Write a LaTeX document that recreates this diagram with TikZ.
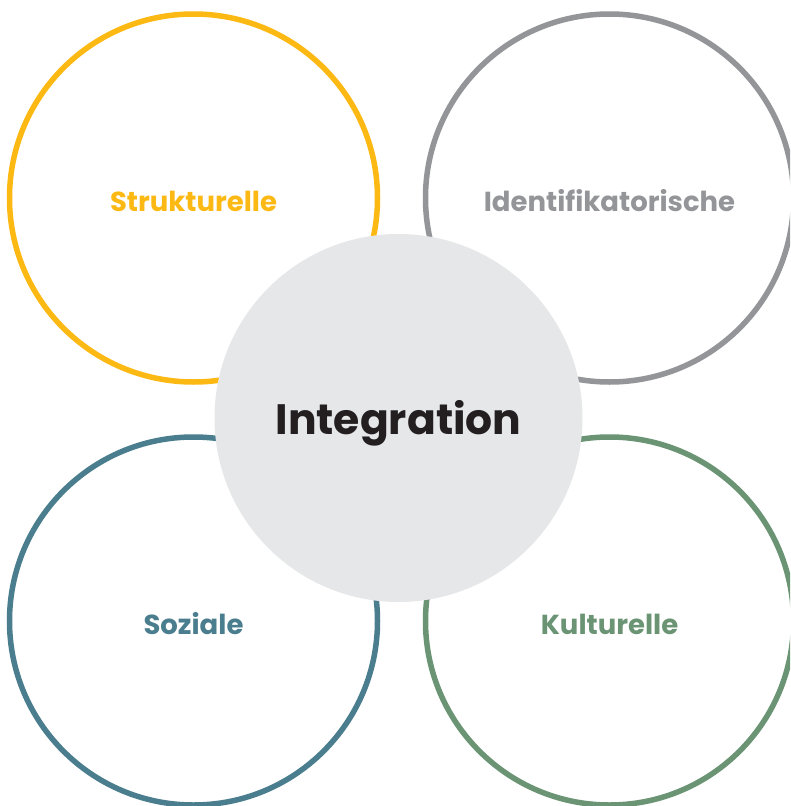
\documentclass[tikz,border=0pt]{standalone}
\usepackage{fontspec}
\setmainfont{Poppins}
\definecolor{cyellow}{HTML}{FDB913}
\definecolor{cgray}{HTML}{939598}
\definecolor{cteal}{HTML}{4A7E8E}
\definecolor{cgreen}{HTML}{6A9473}
\definecolor{cfill}{HTML}{E6E7E8}
\definecolor{ctext}{HTML}{231F20}
\begin{document}
\begin{tikzpicture}[x=1pt,y=-1pt,
  ring/.style={circle,draw=#1,line width=5.5pt,minimum size=368pt,inner sep=0pt,fill=white},
  lbl/.style={font=\fontsize{27.5}{30}\selectfont\bfseries,text=#1},
  hub/.style={circle,fill=cfill,minimum size=368pt,inner sep=0pt},
  hubtext/.style={font=\fontsize{42.5}{46}\selectfont\bfseries,text=ctext}]
\useasboundingbox (0,0) rectangle (790,806);
\clip (0,0) rectangle (790,806);
\fill[white] (0,0) rectangle (790,806);
\node[ring=cyellow] (ys) at (193.5,198) {};
\node[ring=cgray] (gs) at (609.5,198) {};
\node[ring=cteal] (ts) at (193.5,621) {};
\node[ring=cgreen] (ks) at (609.5,621) {};
\node[lbl=cyellow] (yl) at (193.5,201) {Strukturelle};
\node[lbl=cgray] (gl) at (609.5,201) {Identifikatorische};
\node[lbl=cteal] (tl) at (193.5,624) {Soziale};
\node[lbl=cgreen] (kl) at (609.5,624) {Kulturelle};
\node[hub] (hub) at (398.5,418) {};
\node[hubtext] (ht) at (398.5,423) {Integration};
\end{tikzpicture}
\end{document}
